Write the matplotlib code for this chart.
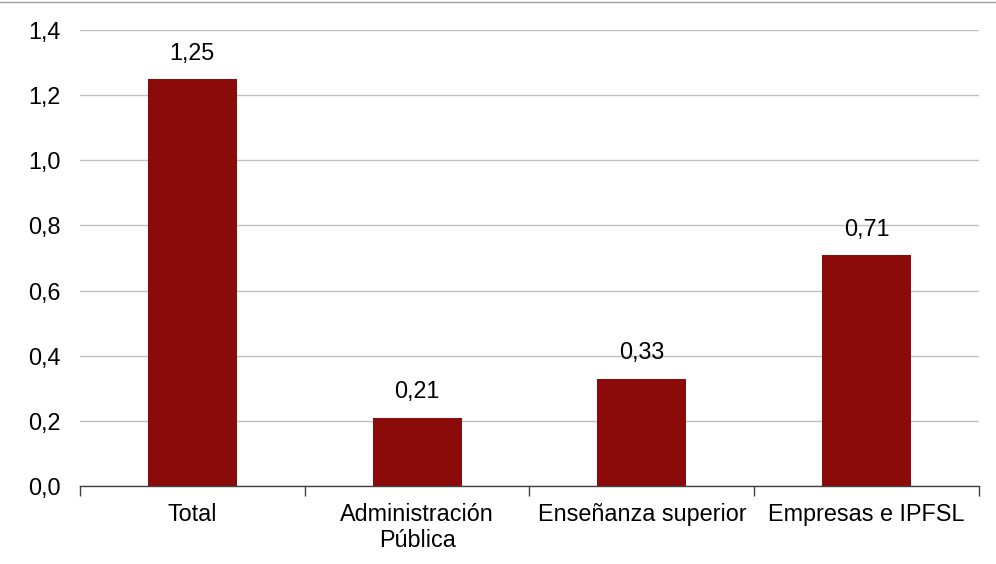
import matplotlib
matplotlib.use("Agg")
import matplotlib.pyplot as plt
from matplotlib.lines import Line2D
from matplotlib.ticker import FuncFormatter, FixedLocator

plt.rcParams["font.family"] = ["Liberation Sans", "DejaVu Sans"]

categories = ["Total", "Administración\nPública", "Enseñanza superior", "Empresas e IPFSL"]
values = [1.25, 0.21, 0.33, 0.71]
bar_color = "#8B0A0A"

fig = plt.figure(figsize=(9.96, 5.64), dpi=100)
ax = fig.add_axes([0.0803, 0.1383, 0.9026, 0.8085])

x = list(range(len(categories)))
bars = ax.bar(x, values, width=0.396, color=bar_color, zorder=3)

for xi, v in zip(x, values):
    ax.annotate(f"{v:.2f}".replace(".", ","), (xi, v), xytext=(0, 18.5),
                textcoords="offset points", ha="center", va="center", fontsize=16.8)

ax.set_xlim(-0.5, len(categories) - 0.5)
ax.set_ylim(0, 1.4)
ax.set_yticks([i * 0.2 for i in range(8)])
ax.yaxis.set_major_formatter(FuncFormatter(lambda v, p: f"{v:.1f}".replace(".", ",")))
ax.tick_params(axis="y", length=0, pad=14, labelsize=16.8)
ax.grid(axis="y", color="#BFBFBF", linewidth=1.0, zorder=0)

ax.set_xticks(x)
ax.set_xticklabels(categories)
ax.xaxis.set_minor_locator(FixedLocator([i - 0.5 for i in range(len(categories) + 1)]))
ax.tick_params(axis="x", which="major", length=0, pad=12, labelsize=16.8)
ax.tick_params(axis="x", which="minor", length=7, width=1, color="#404040", direction="out")

for side in ["left", "right", "top"]:
    ax.spines[side].set_visible(False)
ax.spines["bottom"].set_color("#404040")
ax.spines["bottom"].set_linewidth(1.0)
ax.spines["bottom"].set_zorder(4)

fig.add_artist(Line2D([0, 1], [0.997, 0.997], color="#A0A0A0", linewidth=1.0))

fig.savefig("out.png", dpi=100)
